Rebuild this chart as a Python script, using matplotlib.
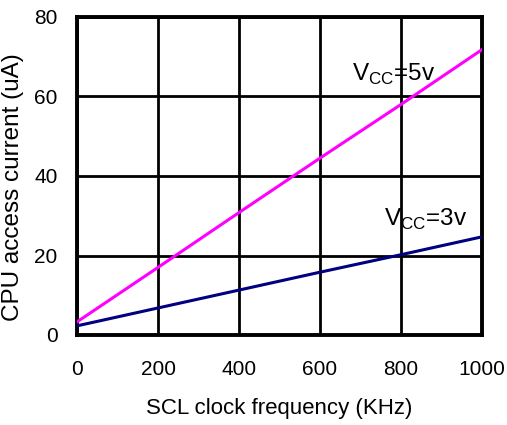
import numpy as np
import matplotlib
matplotlib.use("Agg")
import matplotlib.pyplot as plt

# データ
freq_khz = [0, 200, 400, 600, 800, 1000]
current_5v = [3.3, 17.0, 30.8, 44.5, 58.0, 71.8]
current_3v = [2.3, 6.8, 11.3, 15.8, 20.2, 24.7]

x_ticks = [0, 200, 400, 600, 800, 1000]
y_ticks = [0, 20, 40, 60, 80]

plt.rcParams['font.family'] = ['Liberation Sans', 'DejaVu Sans']

fig = plt.figure(figsize=(5.07, 4.25), dpi=100)
ax = fig.add_axes([77 / 507, 1 - 335 / 425, 405 / 507, 318 / 425])

ax.plot(freq_khz, current_5v, color='#ff00ff', lw=2.2, zorder=3)
ax.plot(freq_khz, current_3v, color='#000080', lw=2.2, zorder=3)

ax.set_xlim(0, 1000)
ax.set_ylim(0, 80)
ax.set_xticks(x_ticks)
ax.set_yticks(y_ticks)
ax.grid(True, color='black', lw=2.0)
ax.set_axisbelow(True)
for s in ax.spines.values():
    s.set_linewidth(2.8)
ax.tick_params(length=0, labelsize=15, pad=14)
ax.tick_params(axis='x', pad=18)

ax.text(680, 65.5, r'V$_{\mathregular{CC}}$=5v', fontsize=17.5, va='center', zorder=4)
ax.text(758, 29, r'V$_{\mathregular{CC}}$=3v', fontsize=17.5, va='center', zorder=4)

ax.set_xlabel('SCL clock frequency (KHz)', fontsize=16, labelpad=14)
ax.set_ylabel('CPU access current (uA)', fontsize=17.5)
ax.yaxis.set_label_coords(-0.132, 0.464)

fig.savefig('out.png', dpi=100)
